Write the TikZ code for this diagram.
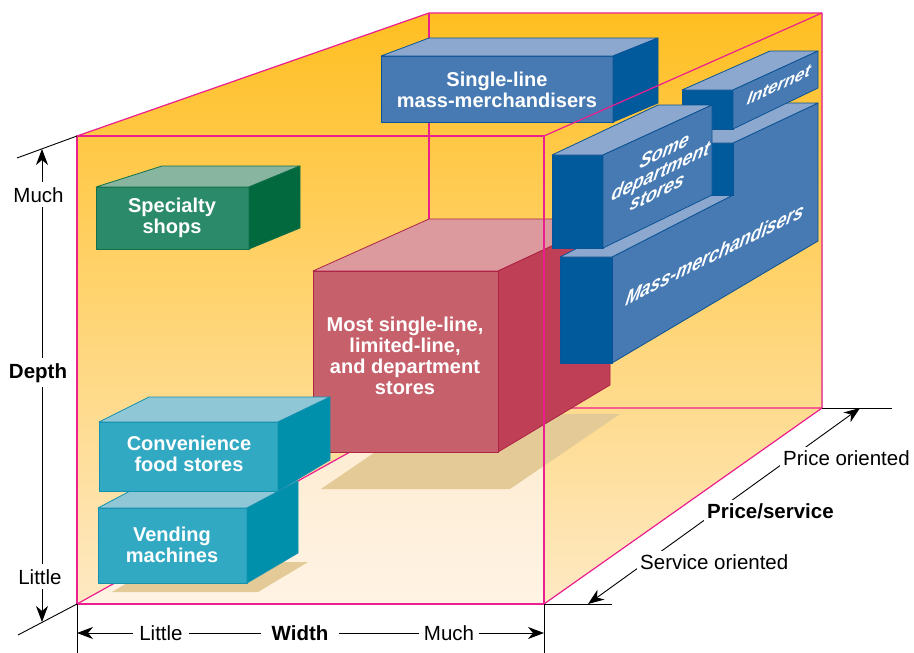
\documentclass[tikz,border=0pt]{standalone}
\usepackage{fontspec}
\setmainfont{Liberation Sans}
\usetikzlibrary{arrows.meta}
\definecolor{wallTop}{HTML}{FFBF22}
\definecolor{wallBot}{HTML}{FEE9C4}
\definecolor{floorTop}{HTML}{FDEBCF}
\definecolor{floorBot}{HTML}{FFF3E4}
\definecolor{pinkline}{HTML}{EC1F8F}
\definecolor{shadowc}{HTML}{E4CA96}
\definecolor{gF}{HTML}{2B8A6A}\definecolor{gT}{HTML}{87B5A0}\definecolor{gS}{HTML}{02683E}\definecolor{gE}{HTML}{10704A}
\definecolor{bF}{HTML}{477AB3}\definecolor{bT}{HTML}{8CA8CF}\definecolor{bS}{HTML}{005A9C}\definecolor{bE}{HTML}{0B5394}
\definecolor{tF}{HTML}{31A9C2}\definecolor{tT}{HTML}{8FC7D7}\definecolor{tS}{HTML}{0090AC}\definecolor{tE}{HTML}{1391AE}
\definecolor{rF}{HTML}{C6606B}\definecolor{rT}{HTML}{DC9A9F}\definecolor{rS}{HTML}{BE3F56}\definecolor{rE}{HTML}{AE2346}
\begin{document}
\begin{tikzpicture}[x=1pt,y=-1pt,
  pinkl/.style={draw=pinkline, line width=1.2pt, line join=round},
  face/.style={line width=0.8pt, line join=round},
  axisl/.style={draw=black, line width=0.9pt},
  tipb/.style={{Stealth[length=16pt,width=12pt,inset=5pt]}-{Stealth[length=16pt,width=12pt,inset=5pt]}},
  lbl/.style={font=\fontsize{20.5}{22}\selectfont, fill=white, inner sep=5pt},
  lblb/.style={lbl, font=\bfseries\fontsize{20.5}{22}\selectfont},
  dlbl/.style={font=\fontsize{20.5}{22}\selectfont, fill=white, inner sep=3pt, anchor=base west},
  boxtxt/.style={font=\bfseries\fontsize{20}{21}\selectfont, text=white, align=center, inner sep=0pt},
  slanttxt/.style={boxtxt, font=\bfseries\itshape\fontsize{20}{20}\selectfont}
]
\useasboundingbox (0,0) rectangle (914,653);

% walls and floor
\fill[top color=wallTop, bottom color=wallBot] (77,136) -- (429,13) -- (822,13) -- (822,408) -- (544,604) -- (77,604) -- cycle;
\fill[top color=floorTop, bottom color=floorBot] (77,604) -- (429,408) -- (544,408) -- (544,604) -- cycle;

% back edges
\draw[pinkl] (77,604) -- (429,408) -- (822,408);
\draw[pinkl] (429,408) -- (429,13);
\draw[pinkl] (77,136) -- (429,13) -- (822,13) -- (822,408);

% shadows
\fill[shadowc] (112,592) -- (258,592) -- (308,562) -- (162,562) -- cycle;
\fill[shadowc] (321,489) -- (510,489) -- (620,414) -- (431,414) -- cycle;

% specialty shops
\filldraw[face, fill=gF, draw=gE] (96,187) rectangle (249,249);
\filldraw[face, fill=gT, draw=gE] (96,187) -- (162,166) -- (300,166) -- (249,187) -- cycle;
\filldraw[face, fill=gS, draw=gE] (249,187) -- (300,166) -- (300,228) -- (249,249) -- cycle;
\node[boxtxt] (spec) at (172,218) {Specialty\\shops};

% single-line mass-merchandisers
\filldraw[face, fill=bF, draw=bE] (381,56) rectangle (613,122);
\filldraw[face, fill=bT, draw=bE] (381,56) -- (429,38) -- (658,38) -- (613,56) -- cycle;
\filldraw[face, fill=bS, draw=bE] (613,56) -- (658,38) -- (658,103) -- (613,122) -- cycle;
\node[boxtxt] (single) at (497,90) {Single-line\\mass-merchandisers};

% red box
\filldraw[face, fill=rT, draw=rE] (313,271) -- (429,219) -- (610,219) -- (498,271) -- cycle;
\filldraw[face, fill=rS, draw=rE] (498,271) -- (610,219) -- (610,385) -- (498,452) -- cycle;
\filldraw[face, fill=rF, draw=rE] (313,271) rectangle (498,452);
\node[boxtxt] (most) at (405,356) {Most single-line,\\limited-line,\\and department\\stores};

% mass-merchandisers
\filldraw[face, fill=bF, draw=bE] (612,257) -- (733,195) -- (733,143) -- (818,103) -- (818,241) -- (612,363) -- cycle;
\filldraw[face, fill=bS, draw=bE] (560,257) rectangle (612,363);
\filldraw[face, fill=bT, draw=bE] (560,257) -- (612,257) -- (733,195) -- (682,195) -- cycle;
\filldraw[face, fill=bS, draw=bE] (682,143) rectangle (733,195);
\filldraw[face, fill=bT, draw=bE] (682,143) -- (733,143) -- (818,103) -- (770,103) -- cycle;
\begin{scope}[shift={(715,254)}]
\node[slanttxt, cm={0.893,0.449,0.19,1.08,(0,0)}] (mass) at (0,0) {Mass-merchandisers};
\end{scope}

% internet
\filldraw[face, fill=bS, draw=bE] (682,90) rectangle (733,129);
\filldraw[face, fill=bT, draw=bE] (682,90) -- (770,51) -- (818,51) -- (733,90) -- cycle;
\filldraw[face, fill=bF, draw=bE] (733,90) -- (818,51) -- (818,88) -- (733,129) -- cycle;
\begin{scope}[shift={(779,85)}]
\node[slanttxt, font=\bfseries\itshape\fontsize{19}{19}\selectfont, cm={0.906,0.423,0.165,0.936,(0,0)}] (inet) at (0,0) {Internet};
\end{scope}

% some department stores
\filldraw[face, fill=bS, draw=bE] (552,155) rectangle (603,248);
\filldraw[face, fill=bT, draw=bE] (552,155) -- (658,105) -- (712,105) -- (603,155) -- cycle;
\filldraw[face, fill=bF, draw=bE] (603,155) -- (712,105) -- (712,195) -- (603,248) -- cycle;
\begin{scope}[shift={(661,171)}]
\node[slanttxt, cm={0.899,0.438,0.183,1.034,(0,0)}] (some) at (0,0) {Some\\department\\stores};
\end{scope}

% vending machines
\filldraw[face, fill=tF, draw=tE] (98,508) rectangle (247,583);
\filldraw[face, fill=tT, draw=tE] (98,508) -- (149,481) -- (298,481) -- (247,508) -- cycle;
\filldraw[face, fill=tS, draw=tE] (247,508) -- (298,481) -- (298,553) -- (247,583) -- cycle;
\node[boxtxt] (vend) at (172,545) {Vending\\machines};

% convenience food stores
\filldraw[face, fill=tF, draw=tE] (99,422) rectangle (278,491);
\filldraw[face, fill=tT, draw=tE] (99,422) -- (149,397) -- (330,397) -- (278,422) -- cycle;
\filldraw[face, fill=tS, draw=tE] (278,422) -- (330,397) -- (330,460) -- (278,491) -- cycle;
\node[boxtxt] (conv) at (189,454) {Convenience\\food stores};

% front edges
\draw[pinkl] (77,136) rectangle (544,604);
\draw[pinkl] (544,136) -- (822,13);
\draw[pinkl] (544,604) -- (822,408);

% depth axis
\coordinate (tk1a) at (17,158); \coordinate (tk1b) at (77,136);
\coordinate (tk2a) at (18,635); \coordinate (tk2b) at (77,604);
\coordinate (dtop) at (42,149); \coordinate (dbot) at (42,622);
\draw[axisl] (tk1a) -- (tk1b);
\draw[axisl] (tk2a) -- (tk2b);
\draw[axisl, tipb] (dtop) -- (dbot);
\node[lbl, anchor=base] (dmuch) at (38.5,202) {Much};
\node[lblb, anchor=base] (depth) at (38,378) {Depth};
\node[lbl, anchor=base] (dlittle) at (40,584) {Little};

% width axis
\coordinate (v1a) at (77,604); \coordinate (v1b) at (77,653);
\coordinate (v2a) at (544,604); \coordinate (v2b) at (544,653);
\coordinate (wl) at (77,633); \coordinate (wr) at (544,633);
\draw[axisl] (v1a) -- (v1b);
\draw[axisl] (v2a) -- (v2b);
\draw[axisl, tipb] (wl) -- (wr);
\node[lbl, anchor=base, inner xsep=6pt, inner ysep=2pt] (wlittle) at (161,640) {Little};
\node[lblb, anchor=base, inner xsep=11pt, inner ysep=2pt] (width) at (300,640) {Width};
\node[lbl, anchor=base, inner xsep=5pt, inner ysep=2pt] (wmuch) at (449,640) {Much};

% price/service axis
\coordinate (h1a) at (822,408); \coordinate (h1b) at (892,408);
\coordinate (h2a) at (544,604); \coordinate (h2b) at (612,604);
\coordinate (sbot) at (588,604); \coordinate (ptop) at (860,408);
\draw[axisl] (h1a) -- (h1b);
\draw[axisl] (h2a) -- (h2b);
\draw[axisl, tipb] (sbot) -- (ptop);
\node[dlbl] (serv) at (637,569) {Service oriented};
\node[dlbl, font=\bfseries\fontsize{20.5}{22}\selectfont] (ps) at (704,518) {Price/service};
\node[dlbl] (price) at (780,465) {Price oriented};
\end{tikzpicture}
\end{document}
